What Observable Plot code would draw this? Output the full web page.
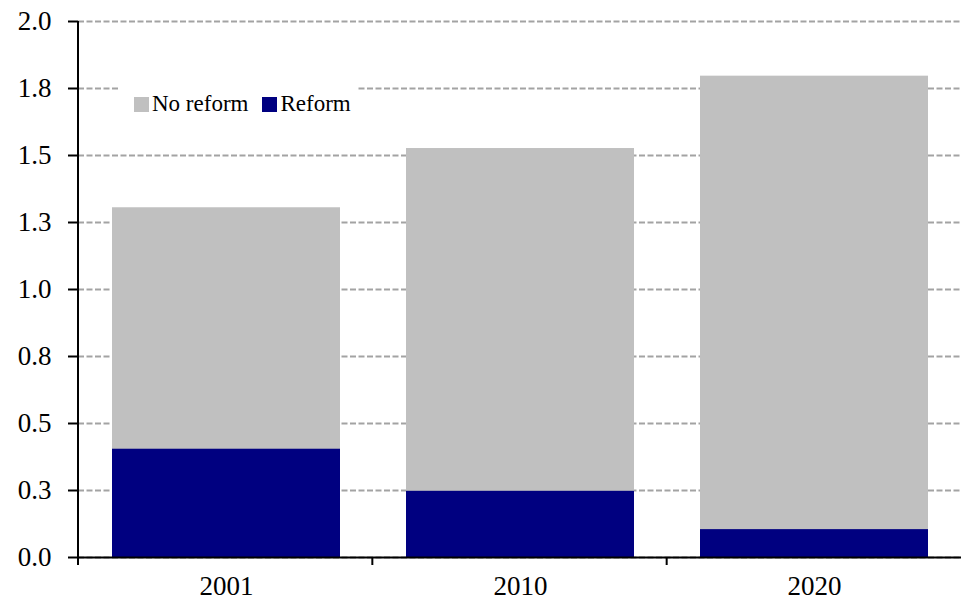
<!DOCTYPE html>
<html><head><meta charset="utf-8">
<script src="https://cdn.jsdelivr.net/npm/d3@7"></script>
<script src="https://cdn.jsdelivr.net/npm/@observablehq/plot@0.6"></script>
<style>
body{margin:0;background:#fff;}
#wrap{position:relative;width:961px;height:602px;}
#legend{position:absolute;left:118px;top:84px;height:40px;width:239px;box-sizing:border-box;padding-left:16px;background:#fff;display:flex;align-items:center;font-family:"Liberation Serif",serif;font-size:23px;color:#000;white-space:nowrap;}
#legend .sw{display:inline-block;width:15px;height:15px;}
svg text{font-family:"Liberation Serif",serif;}
</style></head>
<body><div id="wrap"><div id="chart"></div><div id="legend"></div></div>
<script>
const years = ["2001", "2010", "2020"];
const noReform = [1.305, 1.526, 1.796];
const reform = [0.404, 0.247, 0.104];
const yTicks = [0, 0.25, 0.5, 0.75, 1, 1.25, 1.5, 1.75, 2];
const yTickLabels = ["0.0", "0.3", "0.5", "0.8", "1.0", "1.3", "1.5", "1.8", "2.0"];
const seriesNames = ["No reform", "Reform"];
const seriesColors = ["#c0c0c0", "#000080"];

const FONT = "'Liberation Serif', serif";

function boundaryTicks(index, scales, values, dim) {
  const g = d3.create("svg:g").attr("stroke", "#000").attr("stroke-width", 2);
  const left = dim.marginLeft;
  const step = (dim.width - dim.marginLeft - dim.marginRight) / years.length;
  const y0 = scales.y(0), yTop = scales.y(yTicks[yTicks.length - 1]);
  g.append("line").attr("x1", left).attr("x2", left).attr("y1", yTop).attr("y2", y0 + 8);
  years.forEach((d, i) => {
    if (i === 0) return;
    const bx = left + i * step;
    g.append("line").attr("x1", bx).attr("x2", bx).attr("y1", y0).attr("y2", y0 + 8);
  });
  return g.node();
}

const plot = Plot.plot({
  width: 961, height: 602,
  marginLeft: 78, marginRight: 0, marginTop: 21, marginBottom: 45,
  style: {fontFamily: FONT, fontSize: "27px", color: "#000", background: "#fff"},
  x: {domain: years, padding: 0},
  y: {domain: [0, 2]},
  marks: [
    Plot.gridY(yTicks, {stroke: "#a3a3a3", strokeOpacity: 1, strokeDasharray: "6,2.5", strokeWidth: 2}),
    Plot.barY(years, {x: d => d, y1: 0, y2: (d, i) => noReform[i], fill: seriesColors[0], insetLeft: 33, insetRight: 33}),
    Plot.barY(years, {x: d => d, y1: 0, y2: (d, i) => reform[i], fill: seriesColors[1], insetLeft: 33, insetRight: 33}),
    Plot.axisY(yTicks, {tickFormat: d => yTickLabels[yTicks.indexOf(d)], tickSize: 10, tickPadding: 17, strokeWidth: 2, stroke: "#000", fill: "#000", fontSize: 27, label: null}),
    Plot.axisX({tickSize: 0, tickPadding: 18, fill: "#000", fontSize: 27, label: null}),
    Plot.ruleY([0], {stroke: "#000", strokeWidth: 2}),
    boundaryTicks
  ]
});
document.getElementById("chart").appendChild(plot);

const legend = document.getElementById("legend");
seriesNames.forEach((name, i) => {
  const sw = document.createElement("span");
  sw.className = "sw";
  sw.style.background = seriesColors[i];
  sw.style.marginLeft = i === 0 ? "0px" : "14px";
  sw.style.marginRight = "3px";
  const t = document.createElement("span");
  t.textContent = name;
  legend.appendChild(sw);
  legend.appendChild(t);
});
</script>
</body></html>
